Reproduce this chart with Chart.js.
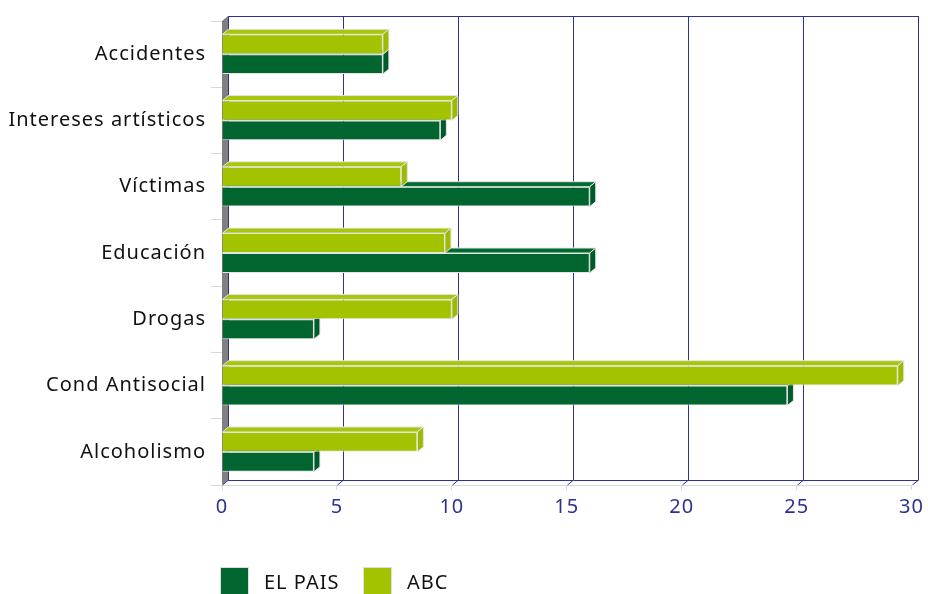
<!DOCTYPE html>
<html>
<head>
<meta charset="utf-8">
<script src="https://cdn.jsdelivr.net/npm/chart.js@4/dist/chart.umd.min.js"></script>
<style>
  html, body { margin: 0; padding: 0; background: #fff; }
  #wrap { position: relative; width: 928px; height: 594px; overflow: hidden; }
  #legend { position: absolute; left: 220px; top: 567px; font-family: "Noto Sans", sans-serif; font-size: 20px; letter-spacing: 1px; color: #111; }
  .item { position: absolute; top: 0; white-space: nowrap; }
  .box { position: absolute; top: 0; width: 29px; height: 28px; border: 1px solid #ddd; box-sizing: border-box; }
  .lbl { position: absolute; top: 1px; }
</style>
</head>
<body>
<div id="wrap">
  <canvas id="chart" width="928" height="594"></canvas>
  <div id="legend"></div>
</div>
<script>
const categories = ["Accidentes", "Intereses artísticos", "Víctimas", "Educación", "Drogas", "Cond Antisocial", "Alcoholismo"];
const elPais = [7, 9.5, 16, 16, 4, 24.6, 4];
const abc = [7, 10, 7.8, 9.7, 10, 29.4, 8.5];
const xTicks = [0, 5, 10, 15, 20, 25, 30];

const DARK = "#00652e";
const LIGHT = "#a3c300";
const NAVY = "#2e3192";
const DX = 6, DY = -5;

function poly(ctx, pts, fill, stroke) {
  ctx.beginPath();
  ctx.moveTo(pts[0][0], pts[0][1]);
  for (let i = 1; i < pts.length; i++) ctx.lineTo(pts[i][0], pts[i][1]);
  ctx.closePath();
  ctx.fillStyle = fill;
  ctx.fill();
  if (stroke) {
    ctx.strokeStyle = stroke;
    ctx.lineWidth = 1;
    ctx.stroke();
  }
}

// back wall, left wall and the 3D sides of the bars
const depth3d = {
  id: "depth3d",
  beforeInit(chart) {
    chart.ctx.letterSpacing = "1px";
  },
  beforeDraw(chart) {
    chart.ctx.letterSpacing = "1px";
  },
  beforeDatasetsDraw(chart) {
    const ctx = chart.ctx;
    const a = chart.chartArea;
    const xs = chart.scales.x;
    ctx.save();
    poly(ctx, [[a.left, a.bottom], [a.left + DX, a.bottom + DY], [a.left + DX, a.top + DY], [a.left, a.top]], "#808080");
    ctx.strokeStyle = NAVY;
    ctx.lineWidth = 1;
    ctx.beginPath();
    xTicks.forEach(v => {
      const px = Math.round(xs.getPixelForValue(v)) + 0.5;
      ctx.moveTo(px + DX, a.top + DY);
      ctx.lineTo(px + DX, a.bottom + DY);
      ctx.moveTo(px, a.bottom);
      ctx.lineTo(px + DX, a.bottom + DY);
    });
    ctx.moveTo(a.left + DX, a.top + DY + 0.5);
    ctx.lineTo(a.right + DX + 1, a.top + DY + 0.5);
    ctx.moveTo(a.left + DX, a.bottom + DY + 0.5);
    ctx.lineTo(a.right + DX + 1, a.bottom + DY + 0.5);
    ctx.stroke();
    ctx.restore();
  },
  afterDatasetDraw(chart, args) {
    const ctx = chart.ctx;
    const ds = chart.data.datasets[args.index];
    ctx.save();
    args.meta.data.forEach(bar => {
      const p = bar.getProps(["x", "y", "base", "height"], true);
      const t = p.y - p.height / 2, b = p.y + p.height / 2;
      poly(ctx, [[p.base, t], [p.base + DX, t + DY], [p.x + DX, t + DY], [p.x, t]], ds.topColor, "#e4e4e4");
      poly(ctx, [[p.x, t], [p.x + DX, t + DY], [p.x + DX, b + DY], [p.x, b]], ds.sideColor, "#e4e4e4");
    });
    ctx.restore();
  }
};

new Chart(document.getElementById("chart"), {
  type: "bar",
  data: {
    labels: categories,
    datasets: [
      { label: "ABC", data: abc, backgroundColor: LIGHT, topColor: "#a8c60a", sideColor: "#9cbb00", borderColor: "#e4e4e4", borderWidth: 1 },
      { label: "EL PAIS", data: elPais, backgroundColor: DARK, topColor: "#006a31", sideColor: "#005a29", borderColor: "#e4e4e4", borderWidth: 1 }
    ]
  },
  options: {
    indexAxis: "y",
    responsive: false,
    animation: false,
    categoryPercentage: 0.6,
    barPercentage: 1,
    layout: { padding: { top: 21, right: 11, left: 0, bottom: 0 } },
    plugins: { legend: { display: false }, tooltip: { enabled: false } },
    scales: {
      x: {
        min: 0,
        max: 30,
        ticks: { stepSize: 5, color: NAVY, padding: 5, font: { family: "Noto Sans", size: 20 } },
        grid: { drawOnChartArea: false, drawTicks: true, tickLength: 5, color: "#d9d9d9" },
        border: { display: true, color: "#d9d9d9" },
        afterFit(scale) { scale.height = 109; }
      },
      y: {
        ticks: { color: "#111", padding: 5, font: { family: "Noto Sans", size: 20 } },
        grid: { drawOnChartArea: false, drawTicks: true, tickLength: 11, color: "#d9d9d9", offset: true },
        border: { display: false },
        afterFit(scale) { scale.width = 222; }
      }
    }
  },
  plugins: [depth3d]
});

// legend, in the reference order
const legendItems = [
  { label: "EL PAIS", color: DARK, left: 0 },
  { label: "ABC", color: LIGHT, left: 143 }
];
const legend = document.getElementById("legend");
legendItems.forEach(it => {
  const d = document.createElement("div");
  d.className = "item";
  d.style.left = it.left + "px";
  d.innerHTML = '<span class="box" style="left:0;background:' + it.color + '"></span><span class="lbl" style="left:44px">' + it.label + "</span>";
  legend.appendChild(d);
});
</script>
</body>
</html>
